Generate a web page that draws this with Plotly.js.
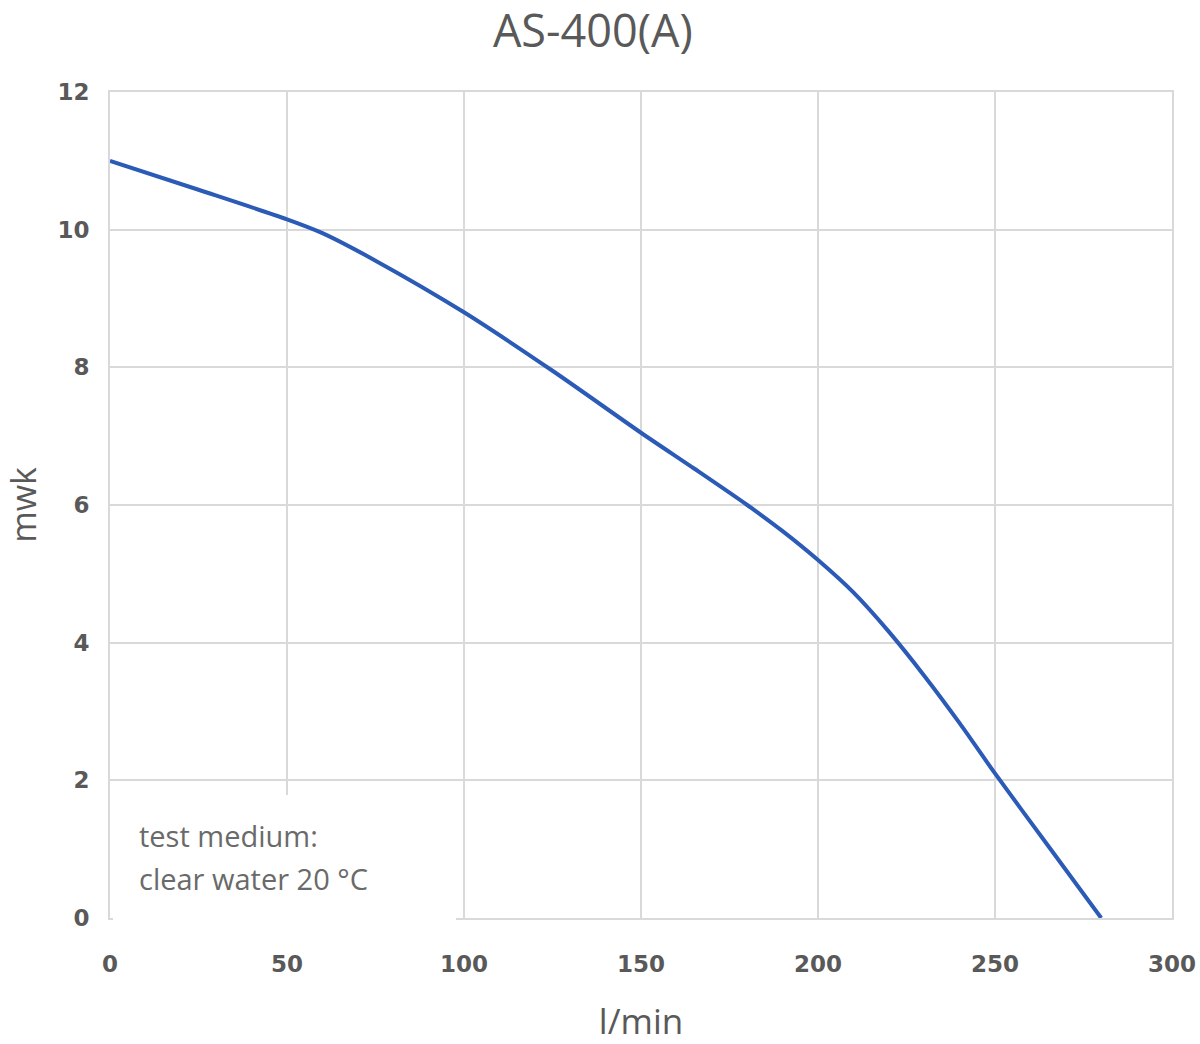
<!DOCTYPE html>
<html>
<head>
<meta charset="utf-8">
<script src="https://cdn.plot.ly/plotly-3.0.1.min.js"></script>
<style>
  html, body { margin: 0; padding: 0; background: white; }
  #chart { width: 1200px; height: 1044px; }
</style>
</head>
<body>
<div id="chart"></div>
<script>
// pump curve AS-400(A)
const flow = [0, 25, 50, 60, 75, 100, 125, 150, 165, 180, 190, 200, 210, 220, 230, 240, 250, 265, 280];
const head = [11.0, 10.58, 10.15, 9.95, 9.55, 8.8, 7.95, 7.05, 6.53, 6.0, 5.62, 5.2, 4.73, 4.16, 3.52, 2.83, 2.1, 1.05, 0];
const xTicks = [0, 50, 100, 150, 200, 250, 300];
const yTicks = [0, 2, 4, 6, 8, 10, 12];
const noteLines = ['test medium:', 'clear water 20 °C'];

const grey = '#595959';
const gridGrey = '#d9d9d9';
const font = 'Open Sans, Lato, sans-serif';
const tickFont = { family: 'DejaVu Sans, sans-serif', size: 23, color: grey, weight: 'bold' };

// plot area in pixels, used to place the note box
const plotLeft = 110, plotRight = 1172, plotTop = 92, plotBottom = 918;
const px = v => (v - plotLeft) / (plotRight - plotLeft);
const py = v => (plotBottom - v) / (plotBottom - plotTop);

const curve = {
  x: flow,
  y: head,
  type: 'scatter',
  mode: 'lines',
  line: { color: '#2b5bb6', width: 4, shape: 'spline', smoothing: 0.8 },
  hoverinfo: 'x+y',
  showlegend: false
};

const annotations = noteLines.map((t, i) => ({
  xref: 'paper', yref: 'paper',
  x: px(137), y: py(835 + i * 43),
  xanchor: 'left', yanchor: 'middle',
  text: t, showarrow: false, align: 'left',
  font: { family: font, size: 29, color: '#6a6a6a' }
}));

const layout = {
  width: 1200,
  height: 1044,
  margin: { l: plotLeft, r: 1200 - plotRight, t: plotTop, b: 1044 - plotBottom },
  paper_bgcolor: 'white',
  plot_bgcolor: 'white',
  title: {
    text: 'AS-400(A)',
    x: 0.494, xanchor: 'center',
    y: 1 - 31 / 1044, yanchor: 'middle',
    font: { family: font, size: 45, color: grey }
  },
  xaxis: {
    range: [0, 300],
    tickvals: xTicks,
    ticktext: xTicks.map(String),
    showgrid: true, gridcolor: gridGrey, gridwidth: 2,
    zeroline: false,
    showline: true, mirror: true, linecolor: gridGrey, linewidth: 2,
    ticks: '', ticklen: 0, ticklabelstandoff: 24,
    tickfont: tickFont,
    title: { text: 'l/min', standoff: 36, font: { family: font, size: 35, color: grey } }
  },
  yaxis: {
    range: [0, 12],
    tickvals: yTicks,
    ticktext: yTicks.map(String),
    showgrid: true, gridcolor: gridGrey, gridwidth: 2,
    zeroline: false,
    showline: true, mirror: true, linecolor: gridGrey, linewidth: 2,
    ticks: '', ticklen: 0, ticklabelstandoff: 14,
    tickfont: tickFont,
    title: { text: 'mwk', standoff: 34, font: { family: font, size: 34, color: grey } }
  },
  // white box hiding the grid behind the note
  shapes: [{
    type: 'rect', layer: 'above',
    xref: 'paper', yref: 'paper',
    x0: px(113), x1: px(456), y0: py(926), y1: py(795),
    fillcolor: 'white', line: { width: 0 }
  }],
  annotations: annotations
};

Plotly.newPlot('chart', [curve], layout, { displayModeBar: false, staticPlot: true });
</script>
</body>
</html>
